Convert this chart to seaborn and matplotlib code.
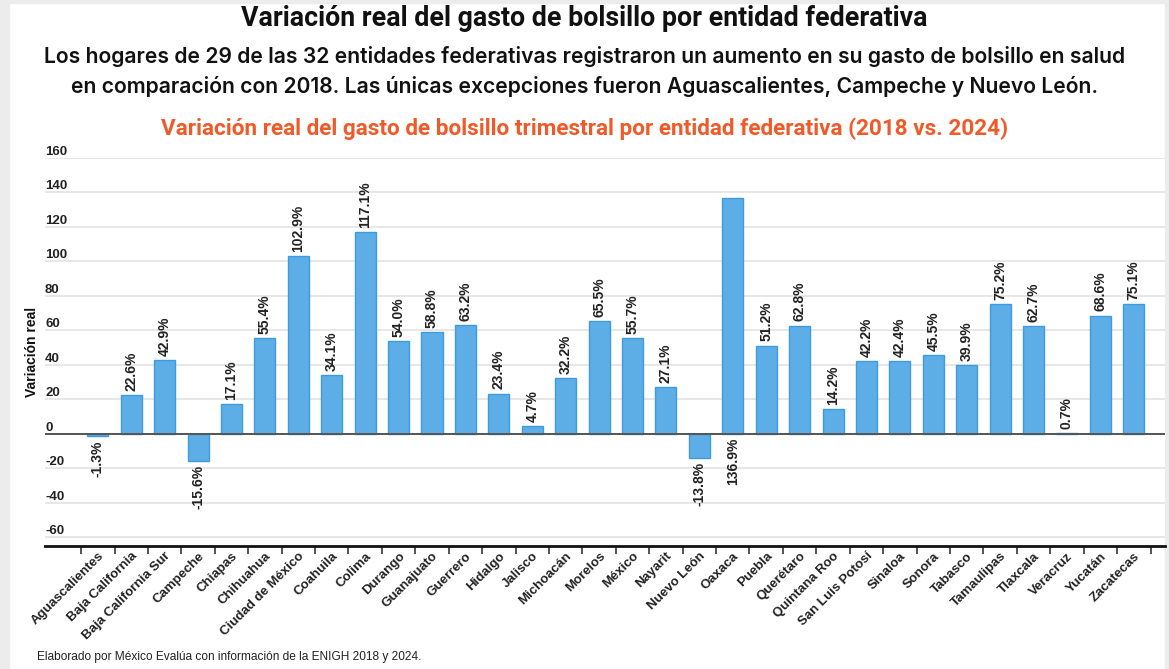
import matplotlib.pyplot as plt
import seaborn as sns
import pandas as pd
import numpy as np
from matplotlib.ticker import FixedLocator
from matplotlib.patches import Rectangle

# Datos
estados = ['Aguascalientes', 'Baja California', 'Baja California Sur', 'Campeche', 'Chiapas',
           'Chihuahua', 'Ciudad de México', 'Coahuila', 'Colima', 'Durango', 'Guanajuato',
           'Guerrero', 'Hidalgo', 'Jalisco', 'Michoacán', 'Morelos', 'México', 'Nayarit',
           'Nuevo León', 'Oaxaca', 'Puebla', 'Querétaro', 'Quintana Roo', 'San Luis Potosí',
           'Sinaloa', 'Sonora', 'Tabasco', 'Tamaulipas', 'Tlaxcala', 'Veracruz', 'Yucatán',
           'Zacatecas']
variacion = [-1.3, 22.6, 42.9, -15.6, 17.1, 55.4, 102.9, 34.1, 117.1, 54.0, 58.8,
             63.2, 23.4, 4.7, 32.2, 65.5, 55.7, 27.1, -13.8, 136.9, 51.2, 62.8,
             14.2, 42.2, 42.4, 45.5, 39.9, 75.2, 62.7, 0.7, 68.6, 75.1]
yticks = [-60, -40, -20, 0, 20, 40, 60, 80, 100, 120, 140, 160]

df = pd.DataFrame({'Entidad': estados, 'Variacion': variacion})

sns.set_theme(style="white")
plt.rcParams['font.family'] = ['Liberation Sans', 'DejaVu Sans']
plt.rcParams['axes.unicode_minus'] = False

fig = plt.figure(figsize=(11.69, 6.69), dpi=100)
ax = fig.add_axes([0.0385, 0.1839, 0.958, 0.58])

sns.barplot(data=df, x='Entidad', y='Variacion', color='#5DADE6', saturation=1,
            width=0.63, edgecolor='#3F9BE0', linewidth=1, ax=ax)

ax.set_xlim(-1.58, len(estados) - 0.07)
ax.set_ylim(-65, 160)

# grid and zero line
ax.set_yticks(yticks)
ax.yaxis.grid(True, color='#e3e3e3', linewidth=1.2)
ax.set_axisbelow(True)
ax.axhline(0, color='#555555', linewidth=1.4, zorder=3)
for s in ['top', 'right', 'left']:
    ax.spines[s].set_visible(False)
ax.spines['bottom'].set_color('#111111')
ax.spines['bottom'].set_linewidth(2)

# y tick labels sit above grid lines, inside the axes
ax.tick_params(axis='y', length=0, pad=0, labelsize=9.5, labelcolor='#222222')
for lab in ax.get_yticklabels():
    lab.set_ha('left')
    lab.set_va('bottom')
    lab.set_fontweight('bold')

# x ticks at the category boundaries, labels centered
ax.xaxis.set_minor_locator(FixedLocator(np.arange(len(estados) + 1) - 0.5))
ax.tick_params(axis='x', which='major', length=0, pad=3)
ax.tick_params(axis='x', which='minor', length=6, width=1.2, color='#333333', direction='out', bottom=True)
ax.set_xticks(range(len(estados)))
ax.set_xticklabels(estados, rotation=45, ha='right', rotation_mode='anchor',
                   fontsize=9.5, fontweight='bold', color='#222222')
ax.set_xlabel('')
ax.set_ylabel('Variación real', fontsize=10, fontweight='bold', color='#111111', labelpad=4)

# bar value labels (Oaxaca's label is drawn below the zero line, as in the original)
for i, (p, v) in enumerate(zip(ax.patches, variacion)):
    xc = p.get_x() + p.get_width() / 2
    txt = f'{v:.1f}%'
    if v < 0 or estados[i] == 'Oaxaca':
        ax.annotate(txt, (xc, min(v, 0)), xytext=(0, -3), textcoords='offset points',
                    rotation=90, ha='center', va='top', fontsize=10,
                    fontweight='bold', color='#222222')
    else:
        ax.annotate(txt, (xc, v), xytext=(0, 3), textcoords='offset points',
                    rotation=90, ha='center', va='bottom', fontsize=10,
                    fontweight='bold', color='#222222')

# titles
fig.text(0.5, 0.972, 'Variación real del gasto de bolsillo por entidad federativa',
         ha='center', va='center', fontsize=19.3, fontweight='bold', color='#111111',
         family=['Roboto', 'DejaVu Sans'])
fig.text(0.5, 0.915, 'Los hogares de 29 de las 32 entidades federativas registraron un aumento en su gasto de bolsillo en salud',
         ha='center', va='center', fontsize=15.2, fontweight='semibold', color='#111111',
         family=['Inter', 'DejaVu Sans'])
fig.text(0.5, 0.870, 'en comparación con 2018. Las únicas excepciones fueron Aguascalientes, Campeche y Nuevo León.',
         ha='center', va='center', fontsize=15.2, fontweight='semibold', color='#111111',
         family=['Inter', 'DejaVu Sans'])
fig.text(0.5, 0.808, 'Variación real del gasto de bolsillo trimestral por entidad federativa (2018 vs. 2024)',
         ha='center', va='center', fontsize=16.2, fontweight='bold', color='#F05A28',
         family=['Roboto', 'DejaVu Sans'])
fig.text(0.032, 0.018, 'Elaborado por México Evalúa con información de la ENIGH 2018 y 2024.',
         ha='left', va='center', fontsize=8.6, color='#222222')

# light grey frame of the screenshot
fig.patches.append(Rectangle((0, 0), 0.008, 1, transform=fig.transFigure, color='#ececec', zorder=-1))
fig.patches.append(Rectangle((0, 0.995), 1, 0.005, transform=fig.transFigure, color='#ececec', zorder=-1))
fig.patches.append(Rectangle((0.997, 0), 0.003, 1, transform=fig.transFigure, color='#ececec', zorder=-1))

fig.savefig('out.png', dpi=100)
